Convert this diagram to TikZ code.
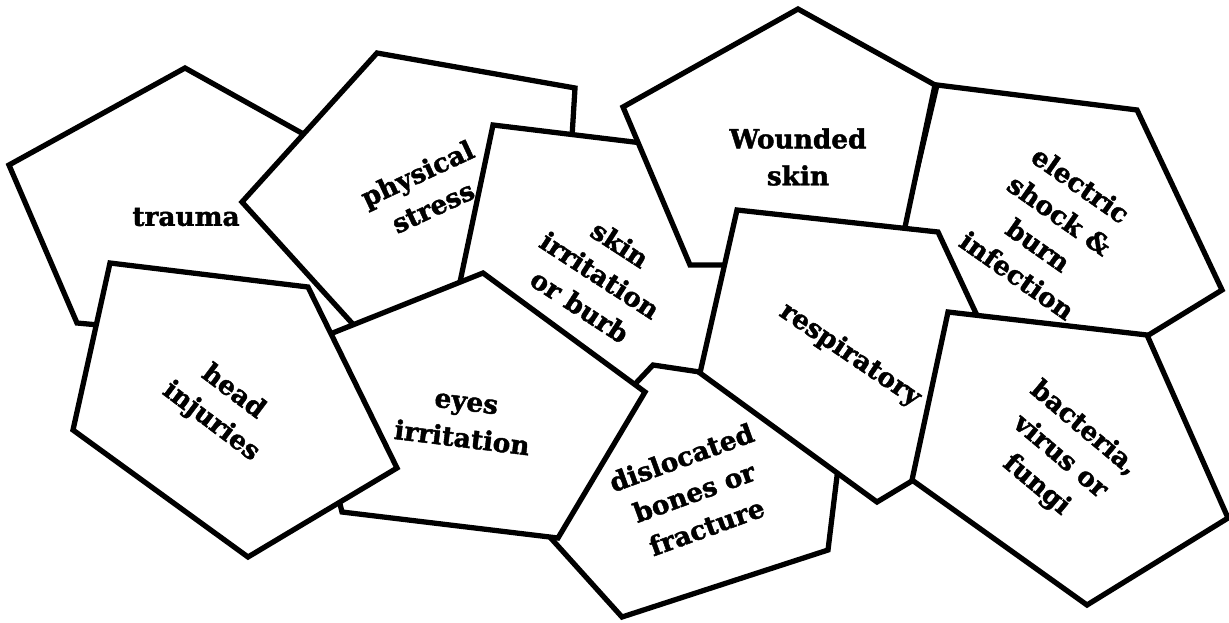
\documentclass[tikz,border=0pt]{standalone}
\usepackage{fontspec}
\setmainfont{DejaVu Serif}[BoldFeatures={FakeBold=1.6}]

\begin{document}
\begin{tikzpicture}[
    x=0.02cm, y=-0.02cm,
    card/.style={draw=black, fill=white, line width=3pt, line join=miter},
    card label/.style={font=\fontsize{15}{21}\selectfont\bfseries, align=center, inner sep=0pt}
]
    \useasboundingbox (0,0) rectangle (1229,622);

    % Cards, from the back to the front
    \filldraw[card] (185,68) -- (350,160) -- (370,350) -- (77,323) -- (9,165) -- cycle;
    \node[card label] (trauma) at (186,217) {trauma};

    \filldraw[card] (377,53) -- (575,88) -- (565,250) -- (360,332) -- (242,202) -- cycle;
    \node[card label, rotate=25] (physical) at (425,190) {physical\\stress};

    \filldraw[card] (493,125) -- (700,150) -- (780,310) -- (660,420) -- (452,320) -- cycle;
    \node[card label, rotate=-33] (skin) at (600,275) {skin\\irritation\\or burb};

    \filldraw[card] (937,85) -- (1137,110) -- (1222,290) -- (1147,336) -- (884,310) -- cycle;
    \node[card label, rotate=-35] (electric) at (1049,230) {electric\\shock \&\\burn\\infection};

    \filldraw[card] (798,9) -- (935,85) -- (897,265) -- (690,265) -- (623,107) -- cycle;
    \node[card label] (wounded) at (798,157) {Wounded\\skin};

    \filldraw[card] (653,365) -- (847,394) -- (828,550) -- (622,617) -- (521,505) -- cycle;
    \node[card label, rotate=20] (fracture) at (694,492) {dislocated\\bones or\\fracture};

    \filldraw[card] (483,273) -- (645,392) -- (558,538) -- (342,512) -- (300,346) -- cycle;
    \node[card label, rotate=-7] (eyes) at (464,422) {eyes\\irritation};

    \filldraw[card] (110,263) -- (308,287) -- (397,468) -- (248,557) -- (73,430) -- cycle;
    \node[card label, rotate=-37] (head) at (222,407) {head\\injuries};

    \filldraw[card] (737,210) -- (938,232) -- (1023,414) -- (877,502) -- (700,373) -- cycle;
    \node[card label, rotate=-34] (respiratory) at (850,355) {respiratory};

    \filldraw[card] (948,312) -- (1147,335) -- (1228,518) -- (1087,605) -- (912,480) -- cycle;
    \node[card label, rotate=-40] (bacteria) at (1060,457) {bacteria,\\virus or\\fungi};
\end{tikzpicture}
\end{document}
